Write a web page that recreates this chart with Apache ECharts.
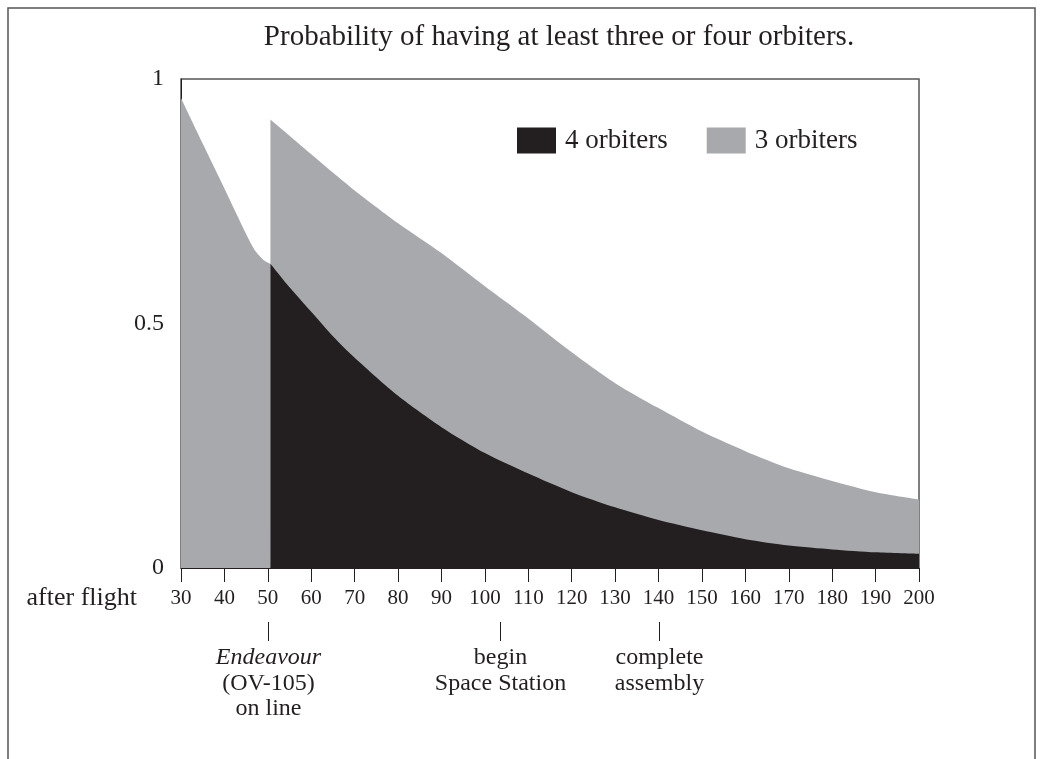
<!DOCTYPE html>
<html>
<head>
<meta charset="utf-8">
<title>orbiters</title>
<script src="https://cdn.jsdelivr.net/npm/echarts@6/dist/echarts.min.js"></script>
<style>
  html, body { margin: 0; padding: 0; background: #fff; }
  #chart { width: 1042px; height: 759px; }
</style>
</head>
<body>
<div id="chart"></div>
<script>
// 4 orbiters available (starts when Endeavour comes on line)
var flights4 = [50.6, 55, 60, 65, 70, 80, 90, 100, 110, 120, 130, 140, 150, 160, 170, 180, 190, 200]
var prob4 = [0.622, 0.574, 0.524, 0.474, 0.430, 0.352, 0.288, 0.235, 0.193, 0.155, 0.124, 0.098, 0.077, 0.059, 0.046, 0.038, 0.032, 0.029]

// 3 orbiters, before and after Endeavour
var flights3a = [30, 35, 40, 45, 47, 49, 50.6]
var prob3a = [0.961, 0.868, 0.776, 0.683, 0.650, 0.630, 0.622]
var flights3b = [50.6, 60, 70, 80, 90, 100, 110, 120, 130, 140, 150, 160, 170, 180, 190, 200]
var prob3b = [0.917, 0.846, 0.772, 0.705, 0.644, 0.576, 0.510, 0.441, 0.378, 0.327, 0.279, 0.239, 0.204, 0.178, 0.155, 0.140]

var milestones = [50, 103.5, 140]
var milestoneLabels = [
  ['Endeavour', '(OV-105)', 'on line'],
  ['begin', 'Space Station'],
  ['complete', 'assembly']
]

var FONT = '"Liberation Serif", "DejaVu Serif", serif'
var INK = '#231f20'
var GREY = '#a7a9ac'

function pairs(xs, ys) {
  return xs.map(function (x, i) { return [x, ys[i]] })
}

var chart = echarts.init(document.getElementById('chart'))

function areaSeries(name, data, color) {
  return {
    name: name,
    type: 'line',
    data: data,
    smooth: 0.25,
    symbol: 'none',
    color: color,
    lineStyle: { width: 0, color: color },
    itemStyle: { color: color },
    areaStyle: { color: color, opacity: 1 },
    animation: false
  }
}

chart.setOption({
  backgroundColor: '#fff',
  title: {
    text: 'Probability of having at least three or four orbiters.',
    left: 554,
    top: 18,
    textAlign: 'center',
    textStyle: { fontFamily: FONT, fontSize: 29, fontWeight: 'normal', color: INK }
  },
  legend: {
    data: ['4 orbiters', '3 orbiters'],
    left: 512,
    top: 122,
    icon: 'rect',
    itemWidth: 39,
    itemHeight: 26,
    itemGap: 39,
    textStyle: { fontFamily: FONT, fontSize: 27, color: INK, padding: [0, 0, 0, 4] }
  },
  grid: {
    left: 181,
    right: 123,
    top: 79,
    bottom: 191,
    show: true,
    borderColor: '#555',
    borderWidth: 1.5
  },
  xAxis: {
    type: 'value',
    min: 30,
    max: 200,
    interval: 10,
    axisLine: { lineStyle: { color: INK, width: 1 } },
    axisTick: { length: 14, lineStyle: { color: INK } },
    axisLabel: { color: INK, fontFamily: FONT, fontSize: 21, margin: 20 },
    splitLine: { show: false }
  },
  yAxis: {
    type: 'value',
    min: 0,
    max: 1,
    interval: 0.5,
    axisLine: { show: true, lineStyle: { color: INK, width: 1 } },
    axisTick: { show: false },
    axisLabel: { color: INK, fontFamily: FONT, fontSize: 24, margin: 17 },
    splitLine: { show: false }
  },
  series: [
    areaSeries('3 orbiters', pairs(flights3a, prob3a), GREY),
    areaSeries('3 orbiters', pairs(flights3b, prob3b), GREY),
    areaSeries('4 orbiters', pairs(flights4, prob4), INK)
  ]
})

// frame, x-axis caption and milestone notes placed through the axis scale
var graphics = [{
  type: 'rect',
  shape: { x: 8, y: 8, width: 1027, height: 800 },
  style: { fill: 'none', stroke: '#555', lineWidth: 1.5 },
  silent: true
}]

var x30 = chart.convertToPixel({ xAxisIndex: 0 }, 30)
graphics.push({
  type: 'text',
  x: x30 - 44,
  y: 598,
  style: { text: 'after flight', align: 'right', verticalAlign: 'middle', font: '26px ' + FONT, fill: INK }
})

milestones.forEach(function (m, i) {
  var px = Math.round(chart.convertToPixel({ xAxisIndex: 0 }, m)) + 0.5
  graphics.push({
    type: 'line',
    shape: { x1: px, y1: 622, x2: px, y2: 641 },
    style: { stroke: INK, lineWidth: 1 }
  })
  milestoneLabels[i].forEach(function (t, j) {
    graphics.push({
      type: 'text',
      x: px,
      y: 658 + j * 25.5,
      style: {
        text: t,
        align: 'center',
        verticalAlign: 'middle',
        font: (i === 0 && j === 0 ? 'italic ' : '') + '24px ' + FONT,
        fill: INK
      }
    })
  })
})

chart.setOption({ graphic: graphics })
</script>
</body>
</html>
